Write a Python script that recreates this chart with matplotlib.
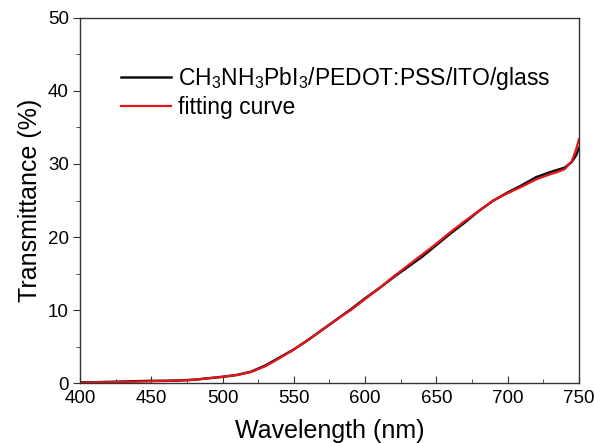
"""
Transmittance spectrum of CH3NH3PbI3/PEDOT:PSS/ITO/glass with fitting curve.
"""

from matplotlib import pyplot as plt
from matplotlib.ticker import MultipleLocator

# Wavelength (nm) and transmittance (%)
WAVELENGTH = [400, 410, 420, 430, 440, 450, 460, 470, 480, 490,
              500, 510, 520, 530, 540, 550, 560, 570, 580, 590,
              600, 610, 620, 630, 640, 650, 660, 670, 680, 690,
              700, 710, 720, 730, 735, 740, 745, 748, 750]
MEASURED = [0.1, 0.1, 0.15, 0.2, 0.25, 0.3, 0.3, 0.35, 0.45, 0.65,
            0.85, 1.1, 1.55, 2.4, 3.5, 4.6, 5.9, 7.3, 8.7, 10.1,
            11.6, 13.0, 14.5, 15.9, 17.3, 18.9, 20.5, 22.0, 23.6, 25.0,
            26.1, 27.1, 28.2, 28.9, 29.2, 29.5, 30.3, 31.2, 32.2]
FITTED = [0.05, 0.1, 0.1, 0.15, 0.2, 0.25, 0.3, 0.35, 0.45, 0.65,
          0.85, 1.1, 1.5, 2.3, 3.4, 4.6, 5.9, 7.3, 8.7, 10.0,
          11.5, 13.0, 14.6, 16.1, 17.6, 19.1, 20.7, 22.2, 23.6, 25.0,
          26.0, 26.9, 27.9, 28.6, 28.9, 29.3, 30.4, 32.0, 33.4]

LABEL_MEASURED = r"CH$_3$NH$_3$PbI$_3$/PEDOT:PSS/ITO/glass"
LABEL_FITTED = "fitting curve"

plt.rcParams["font.family"] = ["Liberation Sans", "DejaVu Sans"]
plt.rcParams["mathtext.fontset"] = "custom"
plt.rcParams["mathtext.rm"] = "Liberation Sans"
plt.rcParams["mathtext.it"] = "Liberation Sans"
plt.rcParams["mathtext.bf"] = "Liberation Sans"

fig = plt.figure(figsize=(5.94, 4.43), dpi=100)
ax = fig.add_axes([0.1347, 0.1354, 0.84, 0.824])

ax.plot(WAVELENGTH, MEASURED, color="#111111", lw=1.8, label=LABEL_MEASURED)
ax.plot(WAVELENGTH, FITTED, color="#e8141b", lw=1.6, label=LABEL_FITTED)

ax.set_xlim(400, 750)
ax.set_ylim(0, 50)
ax.xaxis.set_major_locator(MultipleLocator(50))
ax.xaxis.set_minor_locator(MultipleLocator(25))
ax.yaxis.set_major_locator(MultipleLocator(10))
ax.yaxis.set_minor_locator(MultipleLocator(5))
ax.tick_params(axis="x", which="both", direction="in", top=False,
               labelsize=13.5, color="#333333", pad=5)
ax.tick_params(axis="y", which="both", direction="out", right=False,
               labelsize=13.5, color="#333333", pad=3)
ax.tick_params(which="major", length=5)
ax.tick_params(which="minor", length=3)
for spine in ax.spines.values():
    spine.set_color("#333333")
    spine.set_linewidth(1.0)

ax.set_xlabel("Wavelength (nm)", fontsize=18, labelpad=9)
ax.set_ylabel("Transmittance (%)", fontsize=18, labelpad=4)

ax.legend(loc="upper left", bbox_to_anchor=(0.063, 0.895), frameon=False,
          fontsize=16.5, handlelength=2.2, handletextpad=0.3,
          labelspacing=0.15, borderaxespad=0)

fig.savefig("out.png", dpi=100)
